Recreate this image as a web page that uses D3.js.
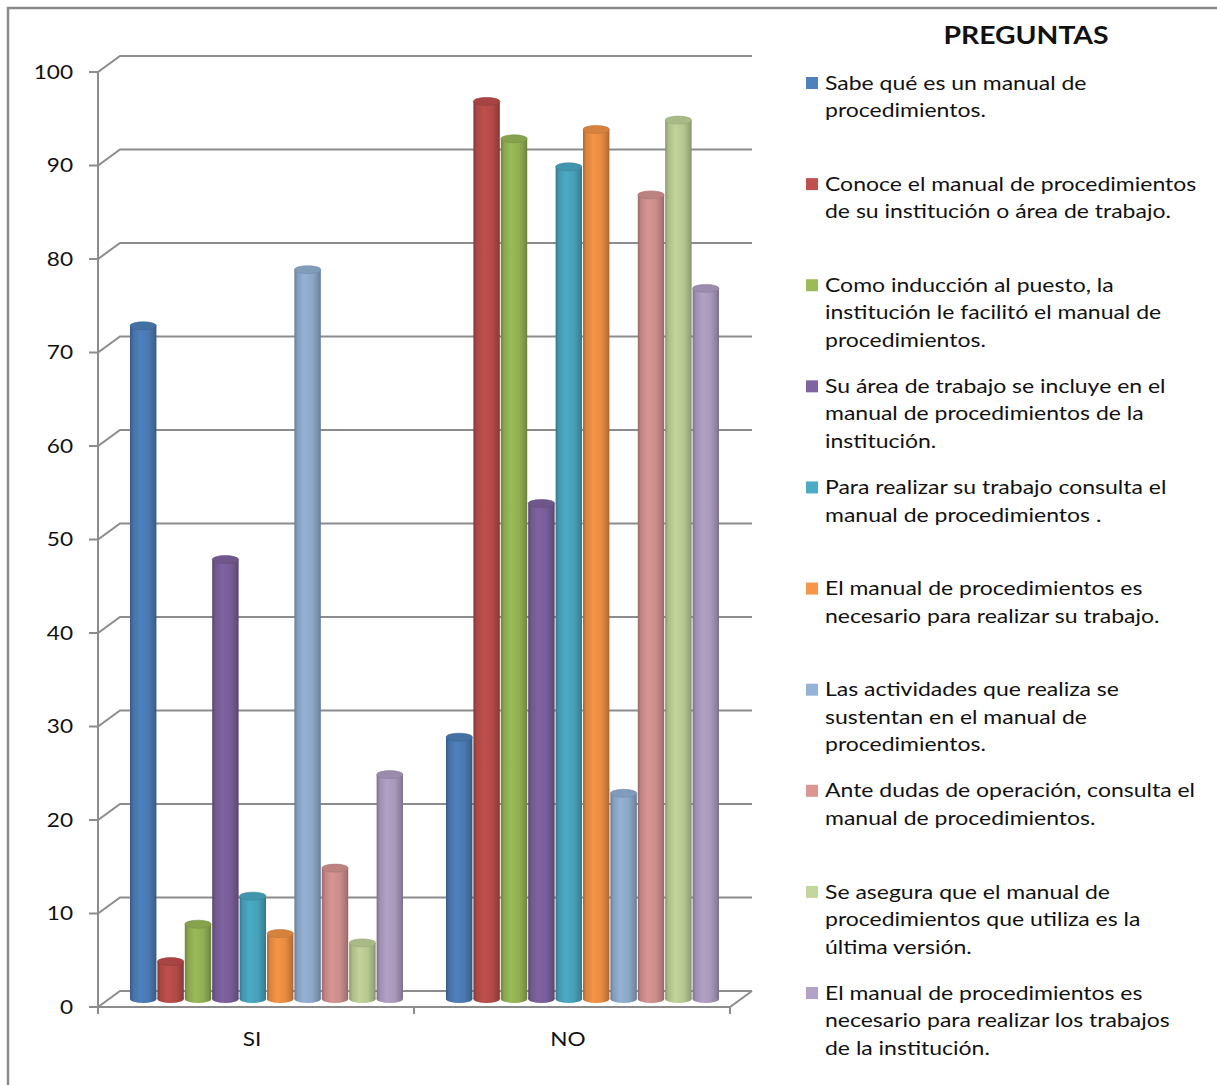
<!DOCTYPE html>
<html>
<head>
<meta charset="utf-8">
<script src="https://cdn.jsdelivr.net/npm/d3@7"></script>
<style>
  html, body { margin: 0; padding: 0; background: #fff; }
  svg { display: block; font-family: Lato, "Open Sans", sans-serif; }
</style>
</head>
<body>
<svg id="chart" width="1217" height="1085"></svg>
<script>
// Survey answers (percent) for each question, grouped by answer
const categories = ["SI", "NO"];
const siValues = [72, 4, 8, 47, 11, 7, 78, 14, 6, 24];
const noValues = [28, 96, 92, 53, 89, 93, 22, 86, 94, 76];
const yTicks = [0, 10, 20, 30, 40, 50, 60, 70, 80, 90, 100];
const seriesColors = ["#4F81BD", "#C0504D", "#9BBB59", "#8064A2", "#4BACC6",
                      "#F79646", "#95B3D7", "#D99694", "#C3D69B", "#B3A2C7"];
const legendTitle = "PREGUNTAS";
const seriesLabels = [
  ["Sabe qué es un manual de", "procedimientos."],
  ["Conoce el manual de procedimientos", "de su institución o área de trabajo."],
  ["Como inducción al puesto, la", "institución le facilitó el manual de", "procedimientos."],
  ["Su área de trabajo se incluye en el", "manual de procedimientos de la", "institución."],
  ["Para realizar su trabajo consulta el", "manual de procedimientos ."],
  ["El manual de procedimientos es", "necesario para realizar su trabajo."],
  ["Las actividades que realiza se", "sustentan en el manual de", "procedimientos."],
  ["Ante dudas de operación, consulta el", "manual de procedimientos."],
  ["Se asegura que el manual de", "procedimientos que utiliza es la", "última versión."],
  ["El manual de procedimientos es", "necesario para realizar los trabajos", "de la institución."]
];

const svg = d3.select("#chart");
const defs = svg.append("defs");

// text is set slightly wide, as in the original chart rendering
const stretch = 1.19;
function wideText(parent, x, y, str, opts) {
  const g = parent.append("g").attr("transform", `translate(${x},${y}) scale(${opts.sx || stretch},1)`);
  return g.append("text").attr("x", 0).attr("y", 0).attr("dy", "0.35em")
    .attr("text-anchor", opts.anchor || "start")
    .attr("font-size", opts.size || 19)
    .attr("font-weight", opts.weight || "normal")
    .attr("fill", "#111").text(str);
}

// outer chart frame
svg.append("rect").attr("x", 8).attr("y", 8).attr("width", 1240).attr("height", 1100)
  .attr("fill", "none").attr("stroke", "#8a8a8a").attr("stroke-width", 2.5);

// plot geometry (front plane + depth offset toward the back wall)
const frontLeft = 98, frontRight = 730;
const depthX = 22, depthY = -16;
const y = d3.scaleLinear().domain([0, 100]).range([1007, 72]);
const x0 = d3.scaleBand().domain(categories).range([frontLeft, frontRight]);
const x1 = d3.scaleBand().domain(d3.range(siValues.length))
  .range([21, x0.bandwidth() - 21]);

const gridColor = "#8c8c8c";
const grid = svg.append("g").attr("fill", "none").attr("stroke", gridColor).attr("stroke-width", 2);

// gridlines: side-wall diagonal + back wall
yTicks.forEach(v => {
  const yy = y(v);
  grid.append("path").attr("d",
    `M${frontLeft - 9},${yy} L${frontLeft},${yy} L${frontLeft + depthX},${yy + depthY} L${frontRight + depthX},${yy + depthY}`);
});
// vertical axis
grid.append("path").attr("d", `M${frontLeft},${y(100)} L${frontLeft},${y(0)}`);
// floor front edge
grid.append("path").attr("d",
  `M${frontLeft},${y(0)} L${frontRight},${y(0)} L${frontRight + depthX},${y(0) + depthY}`);
// category ticks
[frontLeft, (frontLeft + frontRight) / 2, frontRight].forEach(tx => {
  grid.append("path").attr("d", `M${tx},${y(0)} L${tx},${y(0) + 7}`);
});

// y tick labels
const yLabels = svg.append("g");
yTicks.forEach(d => wideText(yLabels, 73, y(d), d, { anchor: "end", size: 19 }));

// category labels
const xLabels = svg.append("g");
categories.forEach(d => wideText(xLabels, x0(d) + x0.bandwidth() / 2 - 4, 1039, d, { anchor: "middle", size: 19 }));

// cylinder shading gradients
seriesColors.forEach((c, i) => {
  const base = d3.color(c);
  const g = defs.append("linearGradient").attr("id", "cyl" + i)
    .attr("x1", "0%").attr("x2", "100%").attr("y1", "0%").attr("y2", "0%");
  g.append("stop").attr("offset", "0%").attr("stop-color", base.darker(1.0));
  g.append("stop").attr("offset", "12%").attr("stop-color", base.darker(0.35));
  g.append("stop").attr("offset", "38%").attr("stop-color", base.darker(0.02));
  g.append("stop").attr("offset", "70%").attr("stop-color", base.darker(0.2));
  g.append("stop").attr("offset", "92%").attr("stop-color", base.darker(0.7));
  g.append("stop").attr("offset", "100%").attr("stop-color", base.darker(1.1));
});

// bars sit halfway into the depth
const midX = depthX / 2, midY = depthY / 2;
const valuesByCategory = { SI: siValues, NO: noValues };
const ry = 4;
const bw = x1.bandwidth() - 1;

categories.forEach(cat => {
  const vals = valuesByCategory[cat];
  const g = svg.append("g");
  vals.forEach((v, i) => {
    const left = x0(cat) + x1(i) + midX;
    const cx = left + bw / 2;
    const yTop = y(v) + midY;
    const yBot = y(0) + midY;
    // bottom cap
    g.append("ellipse").attr("cx", cx).attr("cy", yBot).attr("rx", bw / 2).attr("ry", ry)
      .attr("fill", `url(#cyl${i})`);
    // body
    g.append("rect").attr("x", left).attr("y", yTop).attr("width", bw).attr("height", yBot - yTop)
      .attr("fill", `url(#cyl${i})`);
    // top cap
    g.append("ellipse").attr("cx", cx).attr("cy", yTop).attr("rx", bw / 2).attr("ry", ry)
      .attr("fill", d3.color(seriesColors[i]).darker(0.4))
      .attr("stroke", d3.color(seriesColors[i]).darker(0.7)).attr("stroke-width", 0.6);
  });
});

// legend
wideText(svg, 1026, 36, legendTitle, { anchor: "middle", size: 24, weight: "bold", sx: 1.18 });

const legendTops = d3.scaleLinear().domain([0, 9]).range([83, 993]);
const lineH = 27.5;
const legend = svg.append("g");
seriesLabels.forEach((lines, i) => {
  const cy = legendTops(i);
  legend.append("rect").attr("x", 806).attr("y", cy - 6).attr("width", 12).attr("height", 12)
    .attr("fill", seriesColors[i]);
  lines.forEach((ln, k) => wideText(legend, 825, cy + k * lineH, ln, { size: 19, sx: 1.21 }));
});
</script>
</body>
</html>
